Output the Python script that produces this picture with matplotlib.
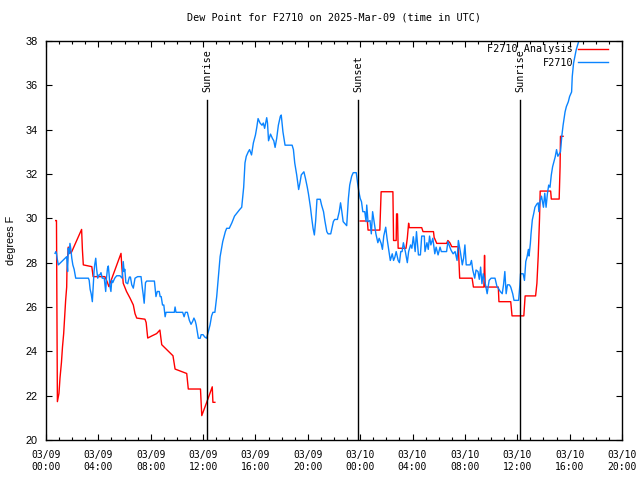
import numpy as np
import pandas as pd
import matplotlib
matplotlib.use("Agg")
import matplotlib.pyplot as plt
import matplotlib.dates as mdates

# hours since 2025-03-09 00:00 UTC, dew point in F
obs_hours = [0.69, 0.75, 0.8, 0.85, 0.94, 1.58, 1.65, 1.7, 1.76, 1.83, 1.9, 1.97, 2.05, 2.15, 2.27,
             3.24, 3.3, 3.37, 3.45, 3.54, 3.6, 3.67, 3.72, 3.8, 3.87, 3.95, 4.05, 4.12, 4.2, 4.3,
             4.45, 4.56, 4.62, 4.7, 4.76, 4.83, 4.88, 4.96, 5.02, 5.1, 5.25, 5.4, 5.65, 5.82, 5.9,
             5.97, 6.02, 6.1, 6.24, 6.3, 6.37, 6.45, 6.55, 6.67, 6.8, 7.0, 7.26, 7.36, 7.43, 7.5,
             7.6, 7.69, 8.28, 8.4, 8.5, 8.65, 8.72, 8.8, 8.9, 9.0, 9.1, 9.17, 9.8, 9.86, 9.93,
             10.44, 10.55, 10.65, 10.8, 10.95, 11.08, 11.2, 11.3, 11.4, 11.47, 11.64, 11.78, 11.85,
             12.0, 12.12, 12.27, 12.4, 12.53, 12.65, 12.75, 12.9, 13.04, 13.17, 13.3, 13.4, 13.5,
             13.7, 13.8, 14.0, 14.2, 14.4, 14.8, 14.95, 15.1, 15.2, 15.3, 15.45, 15.55, 15.7, 15.84,
             16.0, 16.1, 16.2, 16.35, 16.5, 16.6, 16.7, 16.86, 16.92, 17.0, 17.15, 17.3, 17.4,
             17.5, 17.62, 17.75, 17.9, 17.97, 18.03, 18.1, 18.26, 18.8, 18.9, 19.0, 19.15, 19.3,
             19.4, 19.5, 19.7, 19.82, 19.96, 20.05, 20.2, 20.3, 20.4, 20.5, 20.6, 20.7, 20.95,
             21.05, 21.2, 21.3, 21.45, 21.55, 21.75, 21.95, 22.05, 22.26, 22.4, 22.5, 22.6, 22.7,
             22.85, 22.97, 23.1, 23.2, 23.35, 23.47, 23.7, 23.8, 23.9, 24.0, 24.1, 24.2, 24.35,
             24.45, 24.5, 24.6, 24.75, 24.85, 24.95, 25.1, 25.2, 25.35, 25.45, 25.6, 25.7, 25.8,
             25.95, 26.05, 26.15, 26.3, 26.45, 26.55, 26.65, 26.75, 26.9, 27.0, 27.1, 27.2, 27.3,
             27.45, 27.6, 27.7, 27.85, 27.95, 28.06, 28.2, 28.3, 28.45, 28.6, 28.7, 28.9, 28.95,
             29.1, 29.2, 29.3, 29.4, 29.55, 29.7, 29.8, 29.95, 30.1, 30.2, 30.6, 30.7, 30.85,
             30.95, 31.1, 31.25, 31.4, 31.5, 31.65, 31.8, 31.9, 32.0, 32.1, 32.4, 32.5, 32.6,
             32.75, 32.85, 33.0, 33.1, 33.2, 33.3, 33.4, 33.6, 33.7, 33.85, 34.0, 34.3, 34.45,
             34.55, 34.7, 34.85, 34.95, 35.05, 35.15, 35.25, 35.4, 35.5, 35.65, 35.75, 36.1, 36.2,
             36.25, 36.45, 36.55, 36.65, 36.75, 36.85, 36.9, 37.0, 37.05, 37.15, 37.25, 37.35,
             37.5, 37.6, 37.65, 37.75, 37.85, 38.0, 38.1, 38.2, 38.3, 38.4, 38.5, 38.6, 38.7,
             38.9, 39.0, 39.1, 39.2, 39.3, 39.4, 39.5, 39.65, 39.75, 39.9, 40.0, 40.15, 40.2,
             40.3, 40.4, 40.5, 40.6, 40.8]
obs_dewpt = [28.42, 28.5, 28.42, 28.2, 27.9, 28.27, 27.6, 28.65, 28.4, 28.87, 28.6, 28.2, 27.9, 27.7, 27.3,
             27.3, 27.2, 26.8, 26.6, 26.24, 26.9, 27.6, 27.9, 28.2, 27.7, 27.3, 27.45, 27.45, 27.55, 27.3,
             27.3, 26.7, 27.3, 27.75, 27.85, 27.4, 26.95, 26.7, 27.2, 27.1, 27.3, 27.41, 27.41, 27.3, 28.05,
             27.6, 27.7, 27.1, 27.05, 27.2, 27.35, 27.35, 27.0, 26.85, 27.3, 27.37, 27.37, 26.85, 26.54, 26.17,
             27.1, 27.17, 27.17, 26.47, 26.7, 26.7, 26.47, 26.47, 26.09, 26.09, 25.56, 25.76, 25.76, 26.0, 25.76,
             25.76, 25.56, 25.76, 25.76, 25.4, 25.22, 25.35, 25.5, 25.37, 25.2, 24.59, 24.59, 24.75,
             24.75, 24.65, 24.59, 24.9, 25.19, 25.6, 25.76, 25.76, 26.47, 27.37, 28.27, 28.6, 28.95,
             29.4, 29.55, 29.55, 29.8, 30.1, 30.4, 30.5, 31.4, 32.5, 32.8, 33.0, 33.1, 32.86, 33.4,
             33.76, 34.1, 34.5, 34.3, 34.2, 34.3, 34.06, 34.54, 34.3, 33.5, 33.8, 33.6, 33.5,
             33.2, 33.6, 34.2, 34.6, 34.66, 34.3, 33.9, 33.3, 33.3, 33.1, 32.5, 31.96, 31.3,
             31.6, 31.96, 32.1, 31.8, 31.4, 31.1, 30.5, 30.0, 29.55, 29.25, 29.9, 30.86, 30.86,
             30.6, 30.3, 29.9, 29.4, 29.3, 29.3, 29.85, 29.95, 29.95, 30.3, 30.7, 30.3, 29.85,
             29.75, 29.67, 30.9, 31.5, 31.9, 32.06, 32.06, 31.6, 31.2, 30.9, 30.75, 30.3, 30.3,
             29.85, 30.6, 29.85, 29.9, 29.3, 30.3, 29.7, 29.3, 28.9, 29.1, 28.87, 28.6, 29.2,
             29.6, 29.1, 28.7, 28.1, 28.4, 28.1, 28.25, 28.5, 28.1, 28.0, 28.5, 28.5, 28.9,
             28.5, 28.0, 28.5, 28.8, 28.65, 29.17, 28.5, 29.4, 28.35, 28.35, 29.2, 29.2, 28.5,
             28.9, 28.6, 29.2, 28.8, 29.1, 28.4, 28.7, 28.35, 28.7, 28.5, 28.5, 28.95, 28.7,
             28.55, 28.4, 28.5, 28.1, 29.0, 28.5, 27.9, 28.2, 28.8, 27.9, 27.9, 28.1, 27.67,
             27.3, 27.67, 27.6, 27.25, 27.8, 27.05, 27.5, 26.92, 26.6, 27.2, 27.3, 27.3, 26.92,
             26.85, 26.7, 26.6, 27.0, 27.6, 26.6, 27.0, 27.0, 26.9, 26.6, 26.3, 26.3, 27.0,
             27.5, 27.5, 27.2, 28.05, 28.27, 28.6, 28.3, 28.87, 29.3, 29.93, 30.2, 30.5,
             30.65, 30.7, 30.3, 30.8, 31.0, 30.5, 31.13, 30.5, 31.1, 31.5, 31.4, 31.96, 32.33,
             32.78, 33.1, 32.8, 32.9, 33.0, 33.7, 34.2, 34.8, 35.04, 35.26, 35.5, 35.7, 36.4,
             37.0, 37.3, 37.6, 37.8, 38.2]

# analysis series; the NaN value at 18 h breaks the line between the two runs
ana_hours = [0.74, 0.8, 0.87, 0.99, 1.07, 1.18, 1.26, 1.35, 1.43, 1.5, 1.58, 1.6, 1.66, 1.7, 1.78,
             1.91, 2.72, 2.78, 2.85, 3.5, 3.6, 3.7, 3.87, 4.5, 4.7, 4.8, 5.73, 5.8, 5.9, 6.15,
             6.42, 6.67, 6.8, 6.93, 7.56, 7.65, 7.77, 8.1, 8.45, 8.7, 8.84, 9.7, 9.86, 10.75,
             10.87, 11.8, 11.9, 12.4, 12.7, 12.75, 12.9, 18.0,
             24.0, 24.55, 24.6, 25.5, 25.6, 26.5, 26.55, 26.75, 26.78, 26.85, 26.9, 27.5, 27.6,
             27.7, 27.75, 28.7, 28.8, 29.6, 29.65, 29.85, 30.6, 30.7, 30.85, 31.0, 31.5, 31.6,
             32.55, 32.65, 33.45, 33.5, 33.55, 34.55, 34.6, 35.5, 35.6, 36.5, 36.6, 37.4, 37.5,
             37.6, 37.7, 37.75, 38.55, 38.6, 39.2, 39.27, 39.3, 39.5]
ana_dewpt = [29.9, 29.9, 21.73, 22.1, 22.8, 23.5, 24.2, 24.8, 25.6, 26.3, 26.9, 27.6, 28.3, 28.7, 28.65,
             28.42, 29.5, 28.6, 27.9, 27.82, 27.37, 27.37, 27.37, 27.37, 27.1, 26.92, 28.42, 27.75, 27.07, 26.7,
             26.4, 26.09, 25.7, 25.5, 25.45, 25.3, 24.6, 24.7, 24.8, 24.96, 24.3, 23.8, 23.2, 23.0,
             22.3, 22.3, 21.1, 21.9, 22.4, 21.7, 21.7, np.nan,
             29.88, 29.88, 29.47, 29.47, 31.2, 31.2, 29.0, 29.0, 30.2, 30.2, 28.65, 28.65, 29.1,
             29.78, 29.58, 29.58, 29.4, 29.4, 29.14, 28.87, 28.87, 29.0, 28.9, 28.72, 28.72, 27.3,
             27.3, 26.9, 26.9, 28.33, 26.9, 26.9, 26.24, 26.24, 25.6, 25.6, 26.5, 26.5, 27.07,
             28.3, 30.0, 31.23, 31.23, 30.87, 30.87, 32.33, 33.7, 33.7]

sun_hours = [12.32, 23.87, 36.23]
sun_labels = ["Sunrise", "Sunset", "Sunrise"]

base = pd.Timestamp("2025-03-09 00:00")
obs_t = base + pd.to_timedelta(obs_hours, unit="h")
ana_t = base + pd.to_timedelta(ana_hours, unit="h")

mono = "DejaVu Sans Mono"
sans = "Liberation Sans"

fig = plt.figure(figsize=(6.4, 4.8), dpi=100)
ax = fig.add_axes([46/640, 1 - 440/480, 576/640, 399/480])

ax.plot(ana_t, ana_dewpt, color="#ff0000", lw=1.0, label="F2710 Analysis")
ax.plot(obs_t, obs_dewpt, color="#0a84ff", lw=1.0, label="F2710")

for h, lab in zip(sun_hours, sun_labels):
    t = base + pd.Timedelta(hours=h)
    ax.plot([t, t], [20, 35.35], color="black", lw=1.0)
    ax.text(t, 35.7, lab, rotation=90, ha="center", va="bottom", fontsize=7.3, family=mono)

ax.set_xlim(base, base + pd.Timedelta(hours=44))
ax.set_ylim(20, 38)
ax.set_yticks(np.arange(20, 39, 2))
ax.xaxis.set_major_locator(mdates.HourLocator(byhour=range(0, 24, 4)))
ax.xaxis.set_minor_locator(mdates.HourLocator())
ax.xaxis.set_major_formatter(mdates.DateFormatter("%m/%d\n%H:%M"))
ax.tick_params(which="both", direction="in", top=True, right=True)
ax.tick_params(which="major", length=4.5, width=0.8)
ax.tick_params(which="minor", length=2.2, width=0.8)
ax.tick_params(axis="x", which="major", pad=7)
ax.tick_params(axis="y", which="major", pad=6)
for lab in ax.get_xticklabels():
    lab.set_family(mono)
    lab.set_fontsize(7.0)
    lab.set_linespacing(1.25)
for lab in ax.get_yticklabels():
    lab.set_family(sans)
    lab.set_fontsize(7.8)
for s in ax.spines.values():
    s.set_linewidth(1.0)

ax.set_title("Dew Point for F2710 on 2025-Mar-09 (time in UTC)", family=mono, fontsize=7.3, pad=15)
ax.set_ylabel("degrees F", family=sans, fontsize=7.8, labelpad=7)

leg = ax.legend(loc="upper right", bbox_to_anchor=(0.9795, 0.997), frameon=False,
                markerfirst=False, handlelength=3.0, handletextpad=0.45, borderaxespad=0.0,
                borderpad=0.2, labelspacing=0.35, prop={"family": mono, "size": 7.3})
for t in leg.get_texts():
    t.set_ha("right")

fig.savefig("out.png", dpi=100)
